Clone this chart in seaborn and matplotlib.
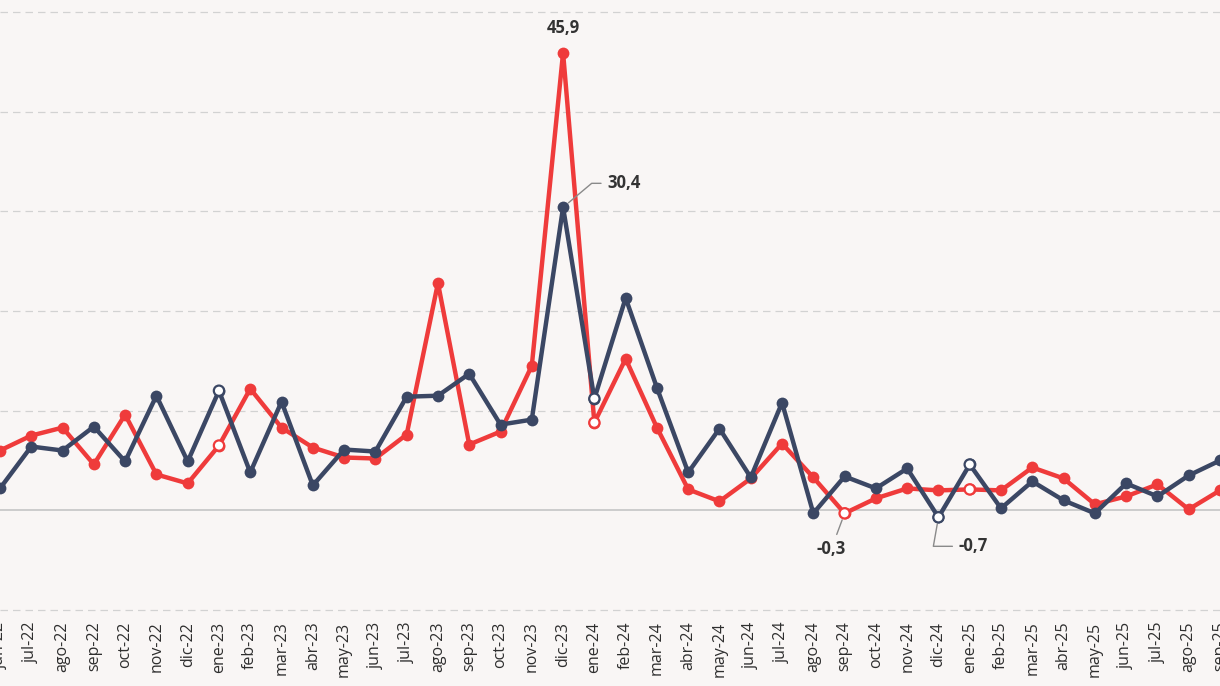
import matplotlib

matplotlib.use("Agg")
import matplotlib.pyplot as plt
import pandas as pd
import seaborn as sns

MESES = [
    "jun-22", "jul-22", "ago-22", "sep-22", "oct-22", "nov-22", "dic-22",
    "ene-23", "feb-23", "mar-23", "abr-23", "may-23", "jun-23", "jul-23",
    "ago-23", "sep-23", "oct-23", "nov-23", "dic-23", "ene-24", "feb-24",
    "mar-24", "abr-24", "may-24", "jun-24", "jul-24", "ago-24", "sep-24",
    "oct-24", "nov-24", "dic-24", "ene-25", "feb-25", "mar-25", "abr-25",
    "may-25", "jun-25", "jul-25", "ago-25", "sep-25",
]
AZUL_VALORES = [
    2.2, 6.4, 6.0, 8.4, 4.9, 11.5, 4.9, 12.0, 3.8, 10.9, 2.5, 6.1, 5.9, 11.4,
    11.5, 13.7, 8.6, 9.1, 30.4, 11.2, 21.3, 12.3, 3.8, 8.2, 3.3, 10.8, -0.3,
    3.4, 2.2, 4.2, -0.7, 4.6, 0.2, 2.9, 1.0, -0.3, 2.7, 1.4, 3.5, 5.0,
]
ROJO_VALORES = [
    6.0, 7.5, 8.3, 4.6, 9.6, 3.6, 2.7, 6.5, 12.2, 8.3, 6.3, 5.3, 5.2, 7.6,
    22.8, 6.6, 7.9, 14.5, 45.9, 8.8, 15.2, 8.3, 2.1, 0.9, 3.2, 6.7, 3.3,
    -0.3, 1.2, 2.2, 2.0, 2.1, 2.0, 4.3, 3.2, 0.6, 1.4, 2.6, 0.1, 2.0,
]
# points drawn hollow (January + the annotated minimum)
AZUL_HUECOS = ["ene-23", "ene-24", "ene-25", "dic-24"]
ROJO_HUECOS = ["ene-23", "ene-24", "ene-25", "sep-24"]

BG = "#f9f6f5"
AZUL = "#3b4764"
ROJO = "#ef3b3b"
TXT = "#333333"
GRID = "#d2d2d2"

sns.set_theme(style="white")
plt.rcParams["font.family"] = ["Open Sans", "DejaVu Sans"]

df = pd.DataFrame({
    "mes": MESES * 2,
    "idx": list(range(len(MESES))) * 2,
    "valor": ROJO_VALORES + AZUL_VALORES,
    "serie": ["rojo"] * len(MESES) + ["azul"] * len(MESES),
})
pal = {"rojo": ROJO, "azul": AZUL}

fig = plt.figure(figsize=(12.2, 6.86), dpi=100, facecolor=BG)
ax = fig.add_axes([0, 74 / 686, 1, 612 / 686])
ax.set_facecolor(BG)

sns.lineplot(data=df, x="idx", y="valor", hue="serie", hue_order=["rojo", "azul"],
             palette=pal, marker="o", markersize=8.5, markeredgewidth=0,
             linewidth=3.2, legend=False, ax=ax, zorder=3)

huecos = pd.concat([
    df[(df.serie == "rojo") & df.mes.isin(ROJO_HUECOS)],
    df[(df.serie == "azul") & df.mes.isin(AZUL_HUECOS)],
])
sns.scatterplot(data=huecos, x="idx", y="valor", hue="serie", palette=pal,
                s=55, linewidth=1.6, legend=False, ax=ax, zorder=5)
for coll in ax.collections:
    coll.set_facecolor("white")
    coll.set_edgecolor([pal[s] for s in huecos.serie])

ax.set_xlim(0.03, 39.0)
ax.set_ylim(-10.2, 51.2)
ax.set_yticks([-10, 10, 20, 30, 40, 50])
ax.set_yticklabels([])
ax.grid(axis="y", color=GRID, linestyle=(0, (6, 4)), linewidth=0.9)
ax.axhline(0, color="#c9c9c9", linewidth=1.3, zorder=1)
ax.set_xticks(range(len(MESES)))
ax.set_xticklabels(MESES, rotation=90, fontsize=11.5, color="#2e2e2e")
ax.tick_params(axis="x", length=0, pad=7)
ax.tick_params(axis="y", length=0)
ax.set_xlabel("")
ax.set_ylabel("")
for s in ax.spines.values():
    s.set_visible(False)


def fmt(v):
    return f"{v:.1f}".replace(".", ",")


lead = dict(arrowstyle="-", color="#8a8a8a", lw=1.0, shrinkA=2, shrinkB=5)
kw = dict(fontsize=12, fontweight="bold", color=TXT, textcoords="offset pixels")

i = MESES.index("dic-23")
ax.annotate(fmt(ROJO_VALORES[i]), (i, ROJO_VALORES[i]), xytext=(0, 25),
            ha="center", va="center", **kw)
ax.annotate(fmt(AZUL_VALORES[i]), (i, AZUL_VALORES[i]), xytext=(44, 24),
            ha="left", va="center",
            arrowprops=dict(lead, connectionstyle="angle,angleA=0,angleB=40,rad=0"),
            **kw)
i = MESES.index("sep-24")
ax.annotate(fmt(ROJO_VALORES[i]), (i, ROJO_VALORES[i]), xytext=(-13, -36),
            ha="center", va="center",
            arrowprops=dict(lead, relpos=(0.6, 1.0)), **kw)
i = MESES.index("dic-24")
ax.annotate(fmt(AZUL_VALORES[i]), (i, AZUL_VALORES[i]), xytext=(20, -29),
            ha="left", va="center",
            arrowprops=dict(lead, connectionstyle="angle,angleA=0,angleB=80,rad=0"),
            **kw)

fig.savefig("out.png", dpi=100, facecolor=BG)
